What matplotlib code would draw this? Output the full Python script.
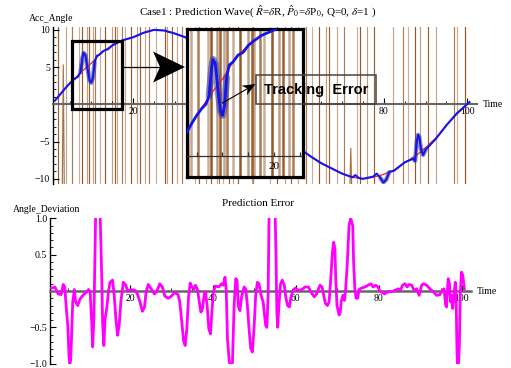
import numpy as np
import matplotlib.pyplot as plt
from matplotlib.patches import Rectangle, Polygon
from matplotlib.ticker import MultipleLocator

plt.rcParams['font.family'] = ['Liberation Serif', 'DejaVu Serif']
plt.rcParams['mathtext.fontset'] = 'stix'

# true angle (red)
true_t = [1.3, 2.5, 5, 7.5, 10, 12.5, 15, 17.5, 20, 22.5, 25, 27.5, 30, 32.5, 35, 37.5, 40,
          42.5, 45, 47.5, 50, 52.5, 55, 57.5, 60, 62.5, 65, 67.5, 70, 72.5, 75, 77.5, 80,
          82.5, 85, 87.5, 90, 92.5, 95, 97.5, 100.5]
true_v = [0.5, 1.3, 2.9, 4.3, 5.5, 7.0, 7.9, 8.6, 9.0, 9.6, 10.0, 9.9, 9.5, 9.0, 8.2, 7.2, 6.0,
          4.7, 3.3, 1.8, 0.3, -1.3, -2.8, -4.3, -6.0, -7.0, -7.9, -8.6, -9.3, -9.8, -10.0, -9.8, -9.4,
          -8.8, -7.8, -7.0, -5.8, -4.5, -2.8, -1.3, 0.3]

# predicted angle (blue)
pred_t = [1.3, 2.5, 4.0, 5.0, 6.0, 6.8, 7.4, 7.9, 8.2, 8.6, 9.1, 9.6, 10.0, 10.4, 10.8, 11.3,
          12.0, 13.0, 14.0, 15.0, 16.0, 17.5, 20, 22.5, 25, 27.5, 30, 32.5, 35, 37.5, 40, 42.5,
          45, 47.5, 50, 52.5, 55, 57.5, 60, 62.5, 65, 67.5, 70, 72.5, 73.2, 74, 75, 77.5, 78.3,
          79.2, 79.9, 80.6, 81.3, 82.5, 85, 87, 87.5, 87.9, 88.2, 88.5, 88.9, 89.4, 90, 92.5,
          95, 97.5, 100.5]
pred_v = [0.5, 1.3, 2.3, 2.9, 3.4, 3.7, 4.3, 6.3, 6.9, 6.6, 4.8, 3.2, 2.9, 3.6, 5.6, 6.5,
          6.7, 7.2, 7.4, 7.9, 8.2, 8.6, 9.0, 9.6, 10.0, 9.9, 9.5, 9.0, 8.2, 7.2, 6.0, 4.7,
          3.3, 1.8, 0.3, -1.3, -2.8, -4.3, -6.0, -7.0, -7.9, -8.6, -9.3, -9.8, -9.5, -9.9, -10.0, -9.7, -9.3,
          -9.9, -10.5, -10.1, -9.1, -8.9, -7.8, -7.3, -7.6, -5.0, -4.1, -4.4, -6.0, -6.8, -6.1, -4.6,
          -2.8, -1.2, 0.3]

# noisy measurement crossings (brown)
spike_t = [2.1, 3.9, 5.3, 7.1, 7.7, 8.9, 9.5, 10.3, 10.9, 12.1, 13.4, 14.9, 15.7, 16.2, 17.3,
           18.1, 19.6, 21.0, 21.7, 22.8, 23.7, 25.6, 27.6, 28.2, 29.2, 30.4, 31.7, 34.8, 35.8,
           37.4, 38.6, 40.1, 40.6, 41.6, 43.0, 44.0, 45.2, 48.4, 48.8, 52.8, 54.5, 56.3, 57.9,
           59.5, 61.4, 62.9, 64.5, 66.2, 66.9, 68.8, 70.5, 73.6, 74.2, 76.0, 77.6, 82.1, 84.6,
           85.8, 87.4, 88.6, 90.6, 92.6, 96.8, 97.4, 99.4]
short_t = [3.3, 72.1]
short_top = [5.3, -5.9]

# prediction error (magenta)
err_t = [1.1, 1.9, 2.7, 3.4, 3.9, 4.3, 4.6, 5.0, 5.3, 5.5, 5.7, 5.9, 6.2, 6.6, 6.9, 7.4, 7.95,
         8.8, 9.6, 10.0, 10.4, 10.8, 11.0, 11.3, 11.6, 11.8, 12.7, 13.0, 13.2, 13.4, 13.7, 14.0,
         14.4, 14.8, 15.2, 15.8, 16.2, 16.6, 17.0, 17.4, 17.8, 18.4, 19.0, 19.4, 20.2, 21.2, 21.8,
         22.4, 23.0, 23.5, 23.9, 24.4, 25.1, 25.9, 26.4, 27.2, 27.8, 28.4, 29.2, 30.0, 30.8, 31.6,
         32.0, 32.5, 32.9, 33.3, 33.7, 34.1, 34.5, 34.9, 35.4, 35.8, 36.3, 36.7, 37.1, 37.5, 37.9,
         38.2, 38.6, 39.0, 39.4, 39.7, 40.1, 40.6, 41.4, 42.1, 42.5, 42.9, 43.2, 43.5, 43.9, 44.3,
         44.7, 45.1, 45.5, 45.8, 46.1, 46.5, 46.9, 47.5, 47.9, 48.3, 48.7, 49.1, 49.5, 49.9, 50.3,
         50.7, 51.1, 51.6, 52.1, 52.7, 53.0, 53.3, 53.5, 53.7, 54.9, 55.2, 55.4, 55.6, 55.9, 56.3,
         56.7, 57.2, 57.6, 58.0, 58.4, 58.8, 59.4, 59.9, 60.6, 61.4, 62.2, 63.0, 63.6, 64.4, 65.0,
         65.8, 66.3, 66.7, 67.1, 67.6, 68.0, 68.4, 68.8, 69.1, 69.4, 69.6, 69.9, 70.4, 70.7, 70.9,
         71.3, 71.7, 72.0, 72.4, 72.8, 73.2, 73.7, 73.9, 74.2, 74.5, 74.9, 75.2, 75.8, 76.6, 77.4,
         78.1, 78.6, 79.2, 79.8, 80.2, 80.8, 81.4, 82.2, 83.1, 83.9, 84.7, 85.2, 85.7, 86.3, 86.8,
         87.3, 87.9, 88.5, 89.1, 89.7, 90.3, 90.8, 91.5, 92.3, 93.1, 93.9, 94.7, 95.3, 95.7, 96.1,
         96.3, 96.7, 97.0, 97.3, 97.5, 97.8, 98.0, 98.4, 98.6, 98.8, 99.0, 99.4, 99.6, 99.9,
         100.2, 100.6]
err_v = [0.04, 0.055, -0.04, -0.05, 0.09, 0.05, -0.2, -0.47, -0.89, -1.0, -0.95, -0.66, -0.15,
         0.02, -0.15, -0.2, -0.11, -0.05, -0.01, 0.02, -0.01, -0.47, -0.77, -0.38, 0.67, 1.3, 1.3,
         0.6, 0.17, -0.43, -0.75, -0.38, -0.24, -0.01, 0.12, 0.15, -0.06, -0.38, -0.61, -0.47,
         -0.15, 0.12, 0.08, 0.0, 0.02, 0.01, -0.04, -0.15, -0.28, -0.22, -0.01, 0.09, 0.03, -0.04,
         -0.01, 0.1, 0.055, -0.07, -0.1, -0.07, -0.02, -0.05, -0.15, -0.43, -0.68, -0.75, -0.52,
         -0.1, 0.11, 0.055, 0.03, 0.08, 0.01, -0.15, -0.29, -0.24, -0.04, -0.01, -0.2, -0.52,
         -0.59, -0.33, -0.01, 0.07, 0.055, 0.1, 0.08, 0.19, 0.01, -0.66, -0.95, -1.1, -0.98, -0.2,
         0.17, 0.15, -0.2, -0.27, -0.08, 0.055, 0.03, -0.2, -0.52, -0.79, -0.84, -0.52, -0.06,
         0.12, 0.1, -0.06, -0.15, -0.47, -0.5, -0.06, 0.95, 1.3, 1.3, 0.49, -0.29, -0.5, -0.2,
         0.1, 0.15, 0.08, -0.1, -0.2, -0.22, -0.08, 0.02, 0.04, 0.01, 0.02, 0.055, 0.055, -0.01,
         -0.08, -0.04, 0.08, 0.055, -0.06, -0.17, -0.2, -0.15, 0.17, 0.54, 0.67, 0.58, 0.17, -0.2,
         -0.33, -0.29, -0.15, -0.06, -0.13, 0.03, 0.4, 0.9, 1.0, 0.9, 0.4, 0.03, -0.1, -0.1, 0.02,
         0.04, 0.055, 0.08, 0.1, 0.055, 0.08, 0.055, 0.0, -0.02, -0.04, -0.01, -0.01, 0.01, 0.03,
         0.01, 0.08, 0.1, 0.055, 0.09, 0.08, 0.01, 0.03, -0.06, 0.08, 0.1, 0.08, 0.03, -0.01,
         -0.06, -0.05, 0.01, 0.03, -0.2, -0.22, 0.17, 0.1, -0.15, -0.06, -0.24, -0.1, 0.12, -0.06,
         -0.75, -1.2, -0.75, -0.06, 0.26, 0.22, 0.03]

brown = '#8e4f1c'
axis_gray = '#666666'
spike_alpha = [0.9, 0.5, 0.75, 0.45, 0.95, 0.55]

fig = plt.figure(figsize=(5.11, 3.68), dpi=100)


def px(x):
    return x / 511


def py(y):
    return 1 - y / 368


def draw_curves(a, lw_spike, halo_lw, blue_lw):
    for i, t in enumerate(spike_t):
        a.axvline(t, color=brown, lw=lw_spike, alpha=spike_alpha[i % len(spike_alpha)], zorder=1)
    for t, top in zip(short_t, short_top):
        a.plot([t - 0.25, t, t + 0.25], [-12, top, -12], color=brown, lw=lw_spike, alpha=0.8, zorder=1)
    tv = np.interp(pred_t, true_t, true_v)
    dev = np.abs(np.array(pred_v) - tv) > 0.5
    keep = dev.copy()
    keep[1:] |= dev[:-1]
    keep[:-1] |= dev[1:]
    halo = np.where(keep, pred_v, np.nan)
    a.plot(true_t, true_v, color='#ff2020', lw=0.9, zorder=2)
    a.plot(pred_t, halo, color='#3a3a90', lw=halo_lw, alpha=0.55, zorder=3,
           solid_capstyle='round')
    a.plot(pred_t, pred_v, color='#1515ee', lw=blue_lw, zorder=4)


# main plot
ax = fig.add_axes([px(53), py(184), px(477 - 53), (184 - 27) / 368])
ax.set_xlim(0.84, 102.3)
ax.set_ylim(-10.7, 10.38)
draw_curves(ax, 0.85, 3.2, 1.5)
ax.add_patch(Rectangle((5.31, -0.67), 11.96, 9.21, fill=False, lw=2.3, ec='black', zorder=6))

for s in ['top', 'right']:
    ax.spines[s].set_visible(False)
ax.spines['bottom'].set_position(('data', 0))
ax.spines['bottom'].set_color(axis_gray)
ax.spines['bottom'].set_linewidth(1.5)
ax.spines['left'].set_linewidth(1.0)
ax.set_xticks([20, 40, 60, 80, 100])
ax.set_xticklabels(['20', '40', '60', '80', '100'])
ax.xaxis.set_minor_locator(MultipleLocator(5))
ax.set_yticks([-10, -5, 5, 10])
ax.set_yticklabels(['\u221210', '\u22125', '5', '10'])
ax.yaxis.set_minor_locator(MultipleLocator(1))
ax.tick_params(which='both', direction='in', labelsize=7, pad=2)
ax.tick_params(which='major', length=4)
ax.tick_params(which='minor', length=2.5)
ax.patch.set_alpha(0)
ax.text(103.8, 0, 'Time', fontsize=7, va='center', ha='left', clip_on=False)
ax.text(0.4, 11.55, 'Acc_Angle', fontsize=7, va='center', ha='center', clip_on=False)

fig.text(px(258), py(11), r'Case1 : Prediction Wave( $\hat{R}$=$\delta$R, $\hat{P}_0$=$\delta$P$_0$, Q=0, $\delta$=1 )',
         fontsize=8, ha='center', va='center')

# zoomed inset
ix = fig.add_axes([px(187.3), py(176.7), px(116), 147.4 / 368], zorder=5)
ix.set_xlim(3.18, 25.66)
ix.set_ylim(-1.48, 9.05)
ix.set_facecolor('white')
draw_curves(ix, 1.8, 5.0, 2.0)
ix.axhline(0, color='#333333', lw=0.9, zorder=5)
ix.vlines([5, 10, 15, 20, 25], 0, 0.25, color='#333333', lw=0.9, zorder=5)
ix.text(20, -0.75, '20', fontsize=8, ha='center', va='center', zorder=6)
ix.set_xticks([])
ix.set_yticks([])
for s in ix.spines.values():
    s.set_linewidth(2.3)
    s.set_color('black')

# bottom plot
bx = fig.add_axes([px(50), py(364.4), px(471 - 50), (364.4 - 217.6) / 368])
bx.set_xlim(0.72, 102.2)
bx.set_ylim(-1.01, 1.01)
bx.plot(err_t, err_v, color='#ff00ff', lw=2.0, zorder=3)
for s in ['top', 'right']:
    bx.spines[s].set_visible(False)
bx.spines['bottom'].set_position(('data', 0))
bx.spines['bottom'].set_color(axis_gray)
bx.spines['bottom'].set_linewidth(1.8)
bx.spines['left'].set_linewidth(1.0)
bx.set_xticks([20, 40, 60, 80, 100])
bx.set_xticklabels(['20', '40', '60', '80', '100'])
bx.xaxis.set_minor_locator(MultipleLocator(5))
bx.set_yticks([-1.0, -0.5, 0.5, 1.0])
bx.set_yticklabels(['\u22121.0', '\u22120.5', '0.5', '1.0'])
bx.yaxis.set_minor_locator(MultipleLocator(0.1))
bx.tick_params(which='both', direction='in', labelsize=7, pad=2)
bx.tick_params(which='major', length=4)
bx.tick_params(which='minor', length=2.5)
bx.patch.set_alpha(0)
bx.text(103.5, 0, 'Time', fontsize=7, va='center', ha='left', clip_on=False)
fig.text(px(47), py(209.5), 'Angle_Deviation', fontsize=7, ha='center', va='center')
fig.text(px(258), py(204), 'Prediction Error', fontsize=8, ha='center', va='center')

# overlay in pixel units: arrows and label box
ov = fig.add_axes([0, 0, 1, 1], zorder=10)
ov.set_xlim(0, 511)
ov.set_ylim(368, 0)
ov.axis('off')
ov.patch.set_alpha(0)

ov.plot([122, 160], [67, 67], color='black', lw=0.9)
ov.add_patch(Polygon([(185, 67), (153, 51.5), (160, 67), (153, 82.5)], closed=True,
                     color='black', lw=0))


def small_arrow(p0, p1, hl=13, hw=5.5):
    p0 = np.array(p0, float)
    p1 = np.array(p1, float)
    u = (p1 - p0) / np.hypot(*(p1 - p0))
    n = np.array([-u[1], u[0]])
    ov.plot([p0[0], p1[0] - 8 * u[0]], [p0[1], p1[1] - 8 * u[1]], color='black', lw=0.8)
    base = p1 - hl * u
    ov.add_patch(Polygon([p1, base + hw * n, p1 - 0.7 * hl * u, base - hw * n],
                         closed=True, color='black', lw=0))


small_arrow((222.5, 103), (255.5, 84))
ov.add_patch(Rectangle((256, 75), 120, 28.5, fill=False, ec='#444444', lw=1.1))
ov.text(316, 90, 'Tracking  Error', fontsize=10.5, fontweight='bold',
        family=['Liberation Sans'], ha='center', va='center')

fig.savefig('out.png', dpi=100)
